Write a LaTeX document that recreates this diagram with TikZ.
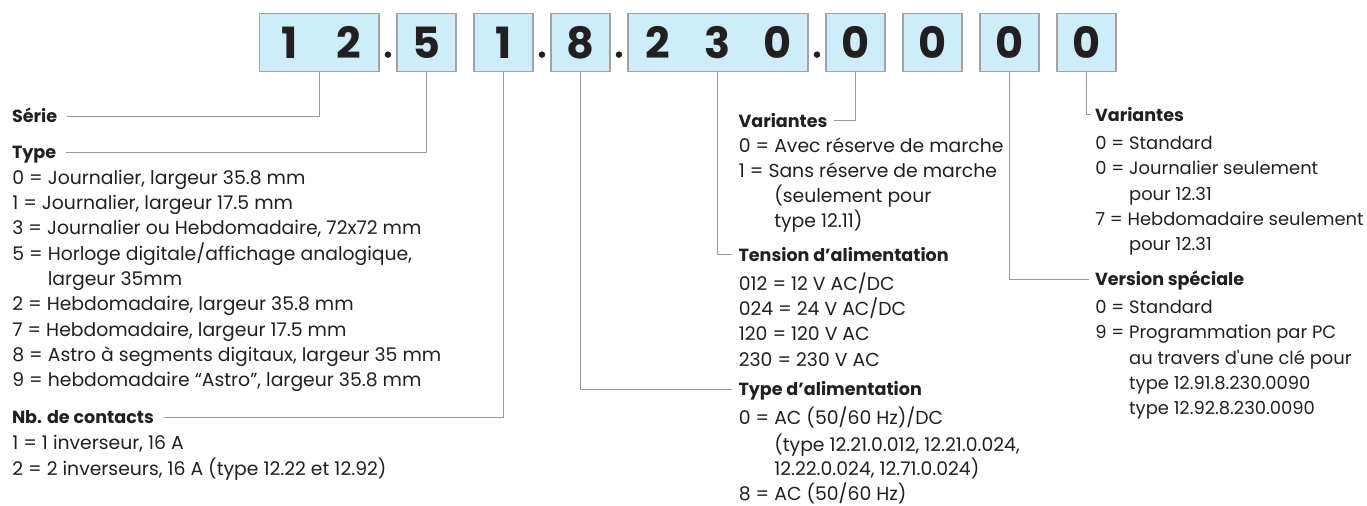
\documentclass[tikz,border=0pt]{standalone}
\usepackage{fontspec}
\usepackage{xcolor}
\setmainfont{Poppins}
\usetikzlibrary{
    positioning,
    calc
}
\definecolor{boxfill}{HTML}{CDEDFA}
\definecolor{boxline}{HTML}{A3A3A3}
\definecolor{linegray}{HTML}{9A9A9A}
\definecolor{ink}{HTML}{231F20}
\newcommand\ind{\hphantom{0 = }}
\tikzset{
    digitbox/.style = {rectangle, draw=boxline, fill=boxfill,
      line width=0.7pt, minimum width=1.18cm, minimum height=1.166cm,
      inner sep=0pt, text=ink,
      font=\fontsize{24.5}{26}\selectfont\bfseries}
  }
\tikzset{
    dotmark/.style = {circle, fill=ink, inner sep=0pt, minimum size=0.13cm}
  }
\tikzset{
    head/.style = {anchor=text, inner xsep=3.5pt, inner ysep=0pt,
      text height=7pt, text depth=0pt, text=ink,
      font=\fontsize{10}{14.4}\selectfont\bfseries}
  }
\tikzset{
    items/.style = {anchor=north west, inner sep=0pt, align=left,
      text=ink, font=\fontsize{10.7}{14.4}\selectfont}
  }
\tikzset{
    conn/.style = {draw=linegray, line width=0.55pt}
  }
\begin{document}
\begin{tikzpicture}[x=0.02cm,y=-0.02cm]

\useasboundingbox (0,0) rectangle (1367,505);

\node[digitbox, minimum width=2.386cm, anchor=north west]
  at (259,12.7) (b12) {\makebox[1.193cm]{1}\makebox[1.193cm]{2}};

\node[digitbox, right=0.336cm of b12] (b5) {5};

\node[digitbox, right=0.336cm of b5] (b1) {1};

\node[digitbox, right=0.336cm of b1] (b8) {8};

\node[digitbox, minimum width=3.6cm, right=0.336cm of b8]
  (b230) {\makebox[1.2cm]{2}\makebox[1.2cm]{3}\makebox[1.2cm]{0}};

\node[digitbox, right=0.336cm of b230] (b0a) {0};

\node[digitbox, right=0.336cm of b0a] (b0b) {0};

\node[digitbox, right=0.336cm of b0b] (b0c) {0};

\node[digitbox, right=0.336cm of b0c] (b0d) {0};

\node[dotmark] (p1) at ([yshift=-0.243cm]$(b12.east)!.5!(b5.west)$) {};
\node[dotmark] (p2) at ([yshift=-0.243cm]$(b1.east)!.5!(b8.west)$) {};
\node[dotmark] (p3) at ([yshift=-0.243cm]$(b8.east)!.5!(b230.west)$) {};
\node[dotmark] (p4) at ([yshift=-0.243cm]$(b230.east)!.5!(b0a.west)$) {};



\node[head, inner xsep=5.5pt] at (12,122.5) (serie) {Série};

\node[head, inner xsep=5.5pt] at (12,158.5) (type) {Type};

\node[items] at (12,166.3) (typelist)
  {\strut 0 = Journalier, largeur 35.8 mm\\
   1 = Journalier, largeur 17.5 mm\\
   3 = Journalier ou Hebdomadaire, 72x72 mm\\
   5 = Horloge digitale/affichage analogique,\\
   \ind largeur 35mm\\
   2 = Hebdomadaire, largeur 35.8 mm\\
   7 = Hebdomadaire, largeur 17.5 mm\\
   8 = Astro à segments digitaux, largeur 35 mm\\
   9 = hebdomadaire “Astro”, largeur 35.8 mm};

\node[head, inner xsep=5.5pt] at (12,423.5) (contacts) {Nb. de contacts};

\node[items] at (12,431.8) (contactlist)
  {\strut 1 = 1 inverseur, 16 A\\
   2 = 2 inverseurs, 16 A (type 12.22 et 12.92)};



\node[head] at (738.5,127) (varmid) {Variantes};

\node[items] at (738.5,134) (varmidlist)
  {\strut 0 = Avec réserve de marche\\
   1 = Sans réserve de marche\\
   \ind (seulement pour\\
   \ind type 12.11)};

\node[head] at (738.5,261) (tension) {Tension d’alimentation};

\node[items] at (738.5,272.3) (tensionlist)
  {\strut 012 = 12 V AC/DC\\
   024 = 24 V AC/DC\\
   120 = 120 V AC\\
   230 = 230 V AC};

\node[head] at (738.5,395.5) (alim) {Type d’alimentation};

\node[items, font=\fontsize{10.7}{14.1}\selectfont] at (738.5,406.3) (alimlist)
  {\strut 0 = AC (50/60 Hz)/DC\\
   \ind (type 12.21.0.012, 12.21.0.024,\\
   \ind 12.22.0.024, 12.71.0.024)\\
   8 = AC (50/60 Hz)};



\node[head, inner xsep=2pt] at (1095,121) (varright) {Variantes};

\node[items, font=\fontsize{10.2}{14.4}\selectfont] at (1095,131.6) (varrightlist)
  {\strut 0 = Standard\\
   0 = Journalier seulement\\
   \ind pour 12.31\\
   7 = Hebdomadaire seulement\\
   \ind pour 12.31};

\node[head] at (1095,285.5) (version) {Version spéciale};

\node[items, font=\fontsize{10.2}{14.4}\selectfont] at (1095,295.6) (versionlist)
  {\strut 0 = Standard\\
   9 = Programmation par PC\\
   \ind au travers d\textquotesingle une clé pour\\
   \ind type 12.91.8.230.0090\\
   \ind type 12.92.8.230.0090};



\draw[conn] (b12.south) |- (serie.east);
\draw[conn] (b5.south) |- (type.east);
\draw[conn] (b1.south) |- (contacts.east);
\draw[conn] (b8.south) |- (alim.west);
\draw[conn] (b230.south) |- (tension.west);
\draw[conn] (b0a.south) |- (varmid.east);
\draw[conn] (b0c.south) |- (version.west);
\draw[conn] (b0d.south) |- (varright.west);

\end{tikzpicture}
\end{document}
